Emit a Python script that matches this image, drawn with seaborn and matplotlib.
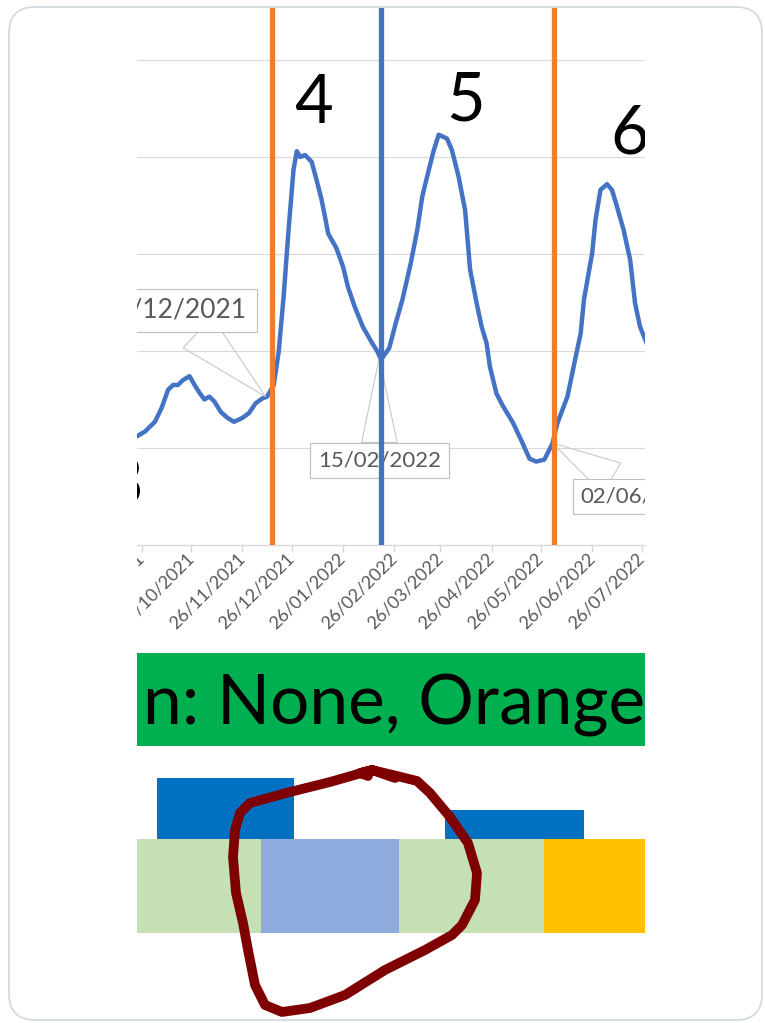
import pandas as pd
import matplotlib
matplotlib.use("Agg")
import matplotlib.pyplot as plt
import matplotlib.dates as mdates
from matplotlib.patches import FancyBboxPatch
from matplotlib.transforms import Bbox, TransformedBbox
import seaborn as sns

# curve (no axis values visible, 1 unit = 1 gridline)
dates = [
    "2021-09-21", "2021-09-23", "2021-09-28", "2021-10-04", "2021-10-08", "2021-10-12",
    "2021-10-15", "2021-10-18", "2021-10-21", "2021-10-25", "2021-10-28", "2021-10-31",
    "2021-11-03", "2021-11-06", "2021-11-09", "2021-11-13", "2021-11-17", "2021-11-21",
    "2021-11-26", "2021-11-30", "2021-12-04", "2021-12-08", "2021-12-11", "2021-12-15",
    "2021-12-18", "2021-12-21", "2021-12-24", "2021-12-27", "2021-12-29", "2021-12-31",
    "2022-01-03", "2022-01-07", "2022-01-10", "2022-01-13", "2022-01-15", "2022-01-17",
    "2022-01-22", "2022-01-26", "2022-01-29", "2022-02-02", "2022-02-07", "2022-02-12",
    "2022-02-16", "2022-02-18", "2022-02-23", "2022-02-27", "2022-03-03", "2022-03-08",
    "2022-03-12", "2022-03-15", "2022-03-18", "2022-03-22", "2022-03-25", "2022-03-30",
    "2022-04-02", "2022-04-06", "2022-04-10", "2022-04-13", "2022-04-17", "2022-04-20",
    "2022-04-23", "2022-04-25", "2022-04-29", "2022-05-03", "2022-05-09", "2022-05-14",
    "2022-05-19", "2022-05-23", "2022-05-28", "2022-06-02", "2022-06-05", "2022-06-11",
    "2022-06-16", "2022-06-19", "2022-06-21", "2022-06-26", "2022-06-28", "2022-07-01",
    "2022-07-05", "2022-07-08", "2022-07-11", "2022-07-15", "2022-07-19", "2022-07-22",
    "2022-07-25", "2022-07-29", "2022-08-01",
]
values = [
    1.10, 1.12, 1.17, 1.27, 1.41, 1.60,
    1.65, 1.65, 1.70, 1.74, 1.65, 1.57,
    1.50, 1.53, 1.48, 1.37, 1.31, 1.27,
    1.31, 1.36, 1.46, 1.51, 1.53, 1.65,
    1.99, 2.56, 3.25, 3.87, 4.06, 4.00,
    4.02, 3.95, 3.76, 3.56, 3.39, 3.21,
    3.06, 2.87, 2.66, 2.46, 2.25, 2.10,
    1.99, 1.91, 2.03, 2.29, 2.53, 2.90,
    3.25, 3.59, 3.80, 4.07, 4.23, 4.19,
    4.07, 3.80, 3.45, 2.84, 2.49, 2.25,
    2.08, 1.84, 1.56, 1.43, 1.26, 1.08,
    0.89, 0.86, 0.88, 1.05, 1.26, 1.53,
    1.94, 2.18, 2.53, 3.01, 3.35, 3.66,
    3.72, 3.66, 3.49, 3.25, 2.94, 2.49,
    2.25, 2.08, 1.96,
]

# vertical markers between waves
marker_dates = ["2021-12-14", "2022-02-18", "2022-06-03"]
marker_colors = ["#ED7D31", "#4472C4", "#ED7D31"]

# wave numbers
wave_labels = ["3", "4", "5", "6"]
wave_label_dates = ["2021-09-15", "2022-01-08", "2022-04-10", "2022-07-19"]
wave_label_vals = [0.41, 4.35, 4.38, 4.04]

# data label callouts
callout_text = ["10/12/2021", "15/02/2022", "02/06/2022"]
callout_dates = ["2021-12-10", "2022-02-17", "2022-06-02"]
callout_vals = [1.53, 1.93, 1.05]
callout_box_dates = ["2021-11-29", "2022-02-17", "2022-06-19"]
callout_box_vals = [2.42, 0.87, 0.50]
callout_ha = ["right", "center", "left"]
callout_size = [19, 16, 16]

tick_dates = pd.date_range("2021-08-26", "2022-08-26", freq=pd.DateOffset(months=1))

# timeline strip underneath
period_start = ["2021-09-01", "2021-12-07", "2022-03-01", "2022-05-28"]
period_end = ["2021-12-07", "2022-03-01", "2022-05-28", "2022-09-01"]
period_color = ["#C5E0B4", "#8FAADC", "#C5E0B4", "#FFC000"]
dose_start = ["2021-10-05", "2022-03-29"]
dose_end = ["2021-12-27", "2022-06-21"]
dose_height = [0.66, 0.31]
banner_text = "n: None, Orange"

# hand drawn loop (pixels)
loop_x = [395, 372, 330, 290, 250, 240, 235, 233, 236, 243, 248, 255, 265, 282, 310, 345,
          385, 425, 452, 462, 475, 477, 468, 450, 430, 417, 397, 372, 360, 368]
loop_y = [778, 770, 782, 792, 803, 813, 830, 857, 893, 923, 950, 985, 1005, 1012, 1008, 995,
          970, 950, 935, 925, 900, 873, 843, 817, 793, 781, 776, 770, 773, 776]

sns.set_theme(style="white")
plt.rcParams["font.family"] = ["Lato", "DejaVu Sans"]

W, H = 765, 1023
fig = plt.figure(figsize=(W / 100, H / 100), dpi=100)


def px_axes(x0, y0, x1, y1):
    return [x0 / W, 1 - y1 / H, (x1 - x0) / W, (y1 - y0) / H]


ax = fig.add_axes(px_axes(137, 8, 645, 545))
ax2 = fig.add_axes(px_axes(137, 652.7, 645, 932.7), sharex=ax)

df = pd.DataFrame({"date": pd.to_datetime(dates), "value": values})
sns.lineplot(data=df, x="date", y="value", ax=ax, color="#4472C4", lw=3.2, zorder=3)

num = lambda d: mdates.date2num(pd.Timestamp(d))

for d, c in zip(marker_dates, marker_colors):
    ax.axvline(num(d), color=c, lw=3.8, zorder=6)

for t, d, v in zip(wave_labels, wave_label_dates, wave_label_vals):
    ax.text(num(d), v, t, fontsize=48, ha="center", va="baseline", color="black",
            clip_on=True, zorder=4)

for t, d, v, bd, bv, ha, fs in zip(callout_text, callout_dates, callout_vals,
                                   callout_box_dates, callout_box_vals, callout_ha, callout_size):
    ax.annotate(t, xy=(num(d), v), xytext=(num(bd), bv), textcoords="data",
                ha=ha, va="center", fontsize=fs, color="#595959", zorder=5,
                bbox=dict(boxstyle="square,pad=0.35", fc="white", ec="#bfbfbf", lw=0.8),
                arrowprops=dict(arrowstyle="wedge,tail_width=1.6", fc="none", ec="#c8c8c8",
                                lw=0.8, shrinkA=0, shrinkB=0),
                clip_on=True, annotation_clip=False)

# timeline strip
for s, e, c in zip(period_start, period_end, period_color):
    ax2.bar(num(s), 1, width=num(e) - num(s), bottom=0, align="edge", color=c, lw=0)
for s, e, h in zip(dose_start, dose_end, dose_height):
    ax2.bar(num(s), h, width=num(e) - num(s), bottom=1, align="edge", color="#0070C0", lw=0)
ax2.axhspan(2, 3, color="#00B050", lw=0)
ax2.text((143 - 137) / 508, 2.5, banner_text, transform=ax2.get_yaxis_transform(),
         fontsize=50, ha="left", va="center_baseline", color="black", clip_on=True, zorder=5)
ax2.set_ylim(0, 3)
ax2.axis("off")

ax.set_xticks([mdates.date2num(t) for t in tick_dates])
ax.xaxis.set_major_formatter(mdates.DateFormatter("%d/%m/%Y"))

# shared x range: screenshot crop of the Excel chart (set after ticks, they widen the view)
base = num("2021-09-26")
ax.set_xlim(base - 2.85, base + 305.0)
ax.set_ylim(0, 5.536)
ax.set_yticks([1, 2, 3, 4, 5])
ax.grid(axis="y", color="#d9d9d9", lw=0.8)
ax.grid(axis="x", visible=False)
ax.set_xlabel("")
ax.set_ylabel("")
for s in ["left", "right", "top"]:
    ax.spines[s].set_visible(False)
ax.spines["bottom"].set_color("#d9d9d9")
ax.spines["bottom"].set_linewidth(1)
ax.tick_params(axis="y", length=0, labelleft=False)
ax.tick_params(axis="x", bottom=True, length=5, width=1, color="#d9d9d9",
               labelsize=13, labelcolor="#595959", pad=3)
clip = TransformedBbox(Bbox.from_extents(137 / W, 0, 645 / W, 1), fig.transFigure)
for lab in ax.get_xticklabels():
    lab.set_rotation(45)
    lab.set_ha("right")
    lab.set_va("center")
    lab.set_rotation_mode("anchor")
    lab.set_clip_box(clip)
    lab.set_clip_on(True)

# card border and hand-drawn loop on top
ov = fig.add_axes([0, 0, 1, 1], zorder=10)
ov.set_xlim(0, W)
ov.set_ylim(H, 0)
ov.axis("off")
ov.patch.set_alpha(0)
ov.add_patch(FancyBboxPatch((9, 7), 753, 1013, boxstyle="round,pad=0,rounding_size=26",
                            fc="none", ec="#cfd9de", lw=1.2))
ov.plot(loop_x, loop_y, color="#7F0000", lw=7, solid_capstyle="round", solid_joinstyle="round")

fig.savefig("out.png", dpi=100, facecolor="white")
